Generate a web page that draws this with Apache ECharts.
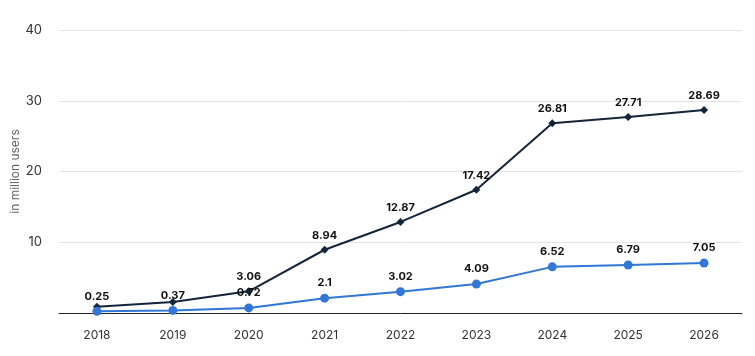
<!DOCTYPE html>
<html><head><meta charset="utf-8">
<script src="https://cdn.jsdelivr.net/npm/echarts@6/dist/echarts.min.js"></script>
<style>html,body{margin:0;padding:0;background:#fff}#c{width:755px;height:356px}</style>
</head><body><div id="c"></div>
<script>
const years = ['2018','2019','2020','2021','2022','2023','2024','2025','2026'];
const seriesDark = [0.9, 1.55, 3.06, 8.94, 12.87, 17.42, 26.81, 27.71, 28.69];
const seriesBlue = [0.25, 0.37, 0.72, 2.1, 3.02, 4.09, 6.52, 6.79, 7.05];
const hiddenDarkLabels = [0, 1];
const yTicks = [0, 10, 20, 30, 40];

const labelStyle = {show: true, position: 'top', distance: 5, fontFamily: 'Inter, "Noto Sans", sans-serif', fontSize: 11, fontWeight: 'bold', color: '#111'};
const chart = echarts.init(document.getElementById('c'));
chart.setOption({
  animation: false,
  grid: {left: 59, right: 13, top: 30, bottom: 43, containLabel: false, outerBoundsMode: 'none'},
  xAxis: {
    type: 'category', data: years, boundaryGap: true,
    axisLine: {lineStyle: {color: '#222', width: 1}},
    axisTick: {show: false},
    axisLabel: {color: '#333', fontSize: 12, fontFamily: 'Inter, "Noto Sans", sans-serif', margin: 16}
  },
  yAxis: {
    type: 'value', min: yTicks[0], max: yTicks[yTicks.length-1], interval: 10,
    name: 'in million users', nameLocation: 'middle', nameGap: 38, nameRotate: 90, nameMoveOverlap: false,
    nameTextStyle: {color: '#666', fontSize: 12, fontFamily: 'Inter, "Noto Sans", sans-serif'},
    axisLine: {show: false}, axisTick: {show: false},
    axisLabel: {color: '#333', fontSize: 13, fontFamily: 'Inter, "Noto Sans", sans-serif', margin: 17,
      formatter: v => v === 0 ? '' : String(v)},
    splitLine: {lineStyle: {color: '#e3e3e3', width: 1}}
  },
  series: [
    {
      type: 'line', name: 'dark',
      data: seriesDark.map((v, i) => hiddenDarkLabels.includes(i) ? {value: v, label: {show: false}} : v),
      symbol: 'diamond', symbolSize: 8,
      lineStyle: {color: '#14243a', width: 2}, itemStyle: {color: '#14243a'},
      label: labelStyle, z: 3
    },
    {
      type: 'line', name: 'blue', data: seriesBlue,
      symbol: 'circle', symbolSize: 9,
      lineStyle: {color: '#3177d6', width: 2}, itemStyle: {color: '#3177d6'},
      label: labelStyle, z: 4
    }
  ]
});
</script></body></html>
